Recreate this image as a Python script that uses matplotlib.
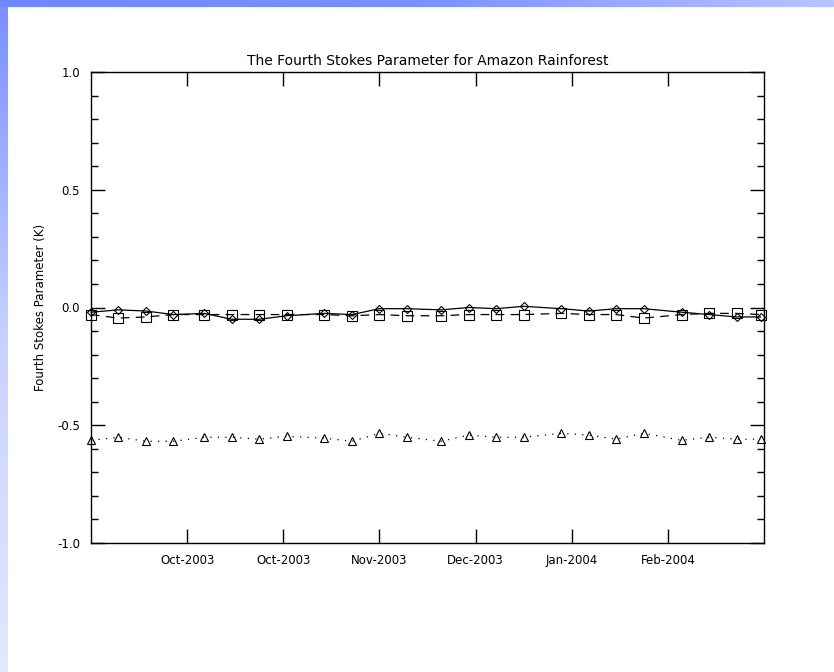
import numpy as np
import pandas as pd
import matplotlib
matplotlib.use('Agg')
import matplotlib.pyplot as plt
import matplotlib.dates as mdates
from matplotlib.ticker import MultipleLocator

plt.rcParams['font.family'] = ['DejaVu Sans']
plt.rcParams['axes.unicode_minus'] = False

# Data (8-day composites)
dates = pd.to_datetime([
    '2003-09-04', '2003-09-12', '2003-09-20', '2003-09-28',
    '2003-10-07', '2003-10-15', '2003-10-23', '2003-10-31',
    '2003-11-11', '2003-11-19', '2003-11-27', '2003-12-05',
    '2003-12-15', '2003-12-23', '2003-12-31', '2004-01-08',
    '2004-01-19', '2004-01-27', '2004-02-04', '2004-02-12',
    '2004-02-23', '2004-03-02', '2004-03-10', '2004-03-17',
])
diamond_vals = [-0.02, -0.01, -0.015, -0.03, -0.025, -0.05, -0.05, -0.035,
                -0.025, -0.03, -0.005, -0.005, -0.01, 0.0, -0.005, 0.005,
                -0.005, -0.015, -0.005, -0.005, -0.02, -0.03, -0.04, -0.04]
square_vals = [-0.03, -0.045, -0.04, -0.03, -0.03, -0.03, -0.03, -0.03,
               -0.03, -0.035, -0.03, -0.035, -0.035, -0.03, -0.03, -0.03,
               -0.025, -0.03, -0.03, -0.045, -0.03, -0.025, -0.025, -0.03]
triangle_vals = [-0.564, -0.551, -0.568, -0.568, -0.551, -0.551, -0.559, -0.547,
                 -0.555, -0.568, -0.534, -0.551, -0.568, -0.542, -0.551, -0.551,
                 -0.534, -0.542, -0.559, -0.534, -0.564, -0.551, -0.559, -0.559]

x_start = pd.Timestamp('2003-09-04')
x_end = pd.Timestamp('2004-03-18')
tick_dates = pd.date_range(x_start, x_end, freq='28D')[1:-1]

fig = plt.figure(figsize=(8.34, 6.72), dpi=100)
fig.patch.set_facecolor('white')

# slide-style gradient bands on top and left
top = fig.add_axes([0, 1 - 7 / 672, 1, 7 / 672])
top.imshow(np.linspace(0, 1, 256).reshape(1, -1), aspect='auto',
           cmap=matplotlib.colors.LinearSegmentedColormap.from_list('t', ['#7088ff', '#7a90ff', '#b8c4ff']))
top.axis('off')
left = fig.add_axes([0, 0, 8 / 834, 1 - 7 / 672])
left.imshow(np.linspace(0, 1, 256).reshape(-1, 1), aspect='auto',
            cmap=matplotlib.colors.LinearSegmentedColormap.from_list('l', ['#7b8fff', '#c8d2ff', '#e2e8ff']))
left.axis('off')

ax = fig.add_axes([91 / 834, 1 - 543 / 672, 673 / 834, 471 / 672])
ax.plot(dates, diamond_vals, color='black', lw=0.9, ls='-', marker='D', ms=4.5,
        mfc='none', mec='black', mew=0.8, clip_on=False)
ax.plot(dates, square_vals, color='black', lw=0.9, ls=(0, (7, 5)), marker='s', ms=7,
        mfc='none', mec='black', mew=0.8, clip_on=False)
ax.plot(dates, triangle_vals, color='black', lw=0.9, ls=(0, (1, 5)), marker='^', ms=6,
        mfc='none', mec='black', mew=0.8, clip_on=False)

ax.set_xlim(x_start, x_end)
ax.set_ylim(-1.0, 1.0)
ax.set_xticks(tick_dates)
ax.xaxis.set_major_formatter(mdates.DateFormatter('%b-%Y'))
ax.yaxis.set_major_locator(MultipleLocator(0.5))
ax.yaxis.set_minor_locator(MultipleLocator(0.1))
ax.yaxis.set_major_formatter(matplotlib.ticker.FormatStrFormatter('%.1f'))
ax.tick_params(direction='in', top=True, right=True, length=10, width=1,
               labelsize=8.5, pad=8)
ax.tick_params(which='minor', direction='in', right=True, length=5, width=1)
for s in ax.spines.values():
    s.set_linewidth(1)

ax.set_title('The Fourth Stokes Parameter for Amazon Rainforest', fontsize=10, pad=5)
ax.set_ylabel('Fourth Stokes Parameter (K)', fontsize=8.5, labelpad=7)

fig.savefig('out.png', dpi=100)
